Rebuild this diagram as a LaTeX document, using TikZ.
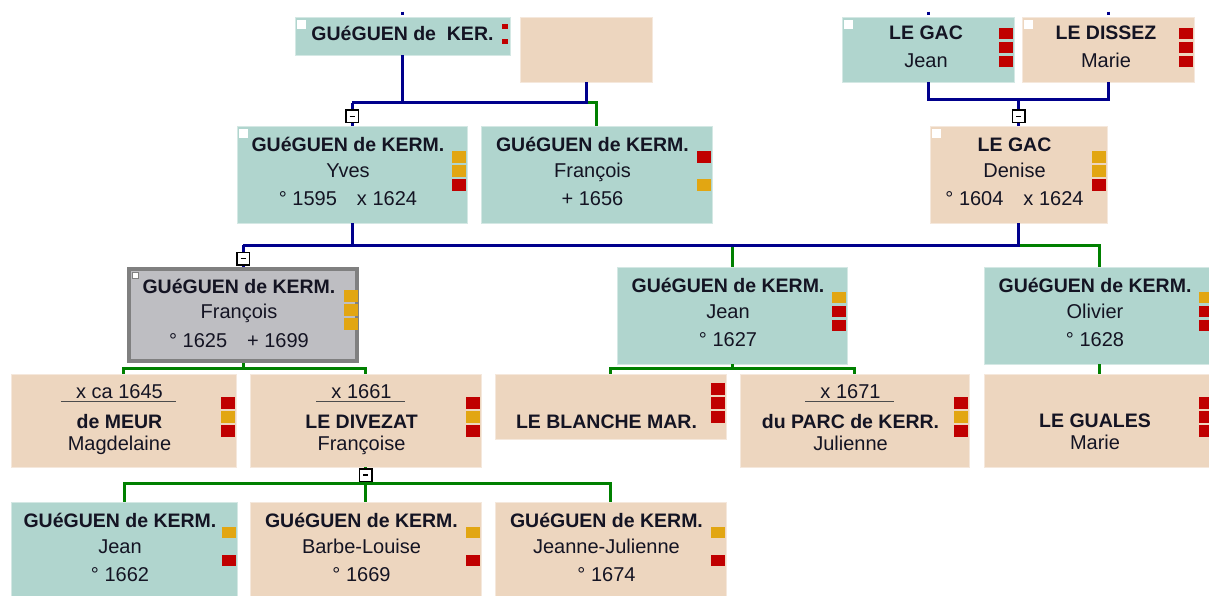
\documentclass[tikz,border=0pt]{standalone}
\usepackage{fontspec}
\setmainfont{Liberation Sans}
\usetikzlibrary{calc,positioning,fit}
\definecolor{tealbox}{RGB}{176,213,206}
\definecolor{beigebox}{RGB}{237,214,191}
\definecolor{greybox}{RGB}{190,190,194}
\definecolor{mred}{RGB}{192,0,0}
\definecolor{mor}{RGB}{226,166,18}
\definecolor{pnavy}{RGB}{0,0,140}
\definecolor{cgreen}{RGB}{0,128,0}
\definecolor{txtc}{RGB}{20,20,35}
\begin{document}
\begin{tikzpicture}[x=1pt,y=-1pt,
  box/.style={inner sep=0pt,line width=0.8pt},
  male/.style={box,fill=tealbox,draw=tealbox!55!white},
  female/.style={box,fill=beigebox,draw=beigebox!55!white},
  chosen/.style={box,fill=greybox,draw=black!50,line width=4pt},
  corner/.style={fill=white,inner sep=0pt,minimum size=9pt},
  flagbox/.style={inner sep=0pt,minimum width=14pt,minimum height=11.5pt},
  sur/.style={anchor=base,inner sep=0pt,text=txtc,font=\fontsize{19.5}{22}\selectfont\bfseries},
  given/.style={anchor=base,inner sep=0pt,text=txtc,font=\fontsize{20}{22}\selectfont},
  uline/.style={draw=black!70,line width=1.4pt},
  pline/.style={draw=pnavy,line width=3pt},
  cline/.style={draw=cgreen,line width=3pt},
  collapse/.style={draw=black,fill=white,line width=1.5pt,minimum size=12.5pt,inner sep=0pt}]
\useasboundingbox (0,0) rectangle (1209,596);
\clip (0,0) rectangle (1209,596);

% boxes
\node[male,fit={(295,17) (510,55)}] (kerA) {};
\node[female,fit={(520,17) (652,82)}] (emptyB) {};
\node[male,fit={(842,17) (1014,82)}] (gacJ) {};
\node[female,fit={(1022,17) (1194,82)}] (dissez) {};
\node[male,fit={(237,126) (467,223)}] (yves) {};
\node[male,fit={(481,126) (712,223)}] (fran1) {};
\node[female,fit={(930,126) (1107,223)}] (denise) {};
\node[chosen,fit={(129,269) (357,361)}] (fran2) {};
\node[male,fit={(617,267) (847,364)}] (jean1) {};
\node[male,fit={(984,267) (1214,364)}] (olivier) {};
\node[female,fit={(11,374) (236,467)}] (meur) {};
\node[female,fit={(250,374) (481,467)}] (divezat) {};
\node[female,fit={(495,374) (726,439)}] (blanche) {};
\node[female,fit={(740,374) (969,467)}] (parc) {};
\node[female,fit={(984,374) (1214,467)}] (guales) {};
\node[male,fit={(11,502) (237,620)}] (jean2) {};
\node[female,fit={(250,502) (481,620)}] (barbe) {};
\node[female,fit={(495,502) (726,620)}] (jj) {};

% corner squares
\foreach \b in {kerA,gacJ,dissez,yves,denise}
  \node[corner] (\b-c) at ($(\b.north west)+(6.5,8)$) {};
\node[corner,draw=black!50,line width=0.6pt,minimum size=6pt] (fran2-c) at (135.5,275.5) {};

% flags
\node[flagbox,fill=mred,minimum width=6pt,minimum height=5pt] (kerA-f1) at ($(kerA.north east)+(-5,9.5)$) {};
\node[flagbox,fill=mred,minimum width=6pt,minimum height=5pt] (kerA-f2) at ($(kerA.north east)+(-5,25)$) {};
\foreach \b/\dy/\ca/\cb/\cc in {gacJ/17/mred/mred/mred, dissez/17/mred/mred/mred,
    yves/31.5/mor/mor/mred, fran1/31.5/mred/none/mor, denise/31.5/mor/mor/mred,
    fran2/29/mor/mor/mor, jean1/31/mor/mred/mred, olivier/31/mor/mred/mred,
    meur/29.5/mred/mor/mred, divezat/29.5/mred/mor/mred, blanche/15.5/mred/mred/mred,
    parc/29.5/mred/mor/mred, guales/29.5/mred/mred/mred,
    jean2/31/mor/none/mred, barbe/31/mor/none/mred, jj/31/mor/none/mred}
  \foreach \c [count=\i] in {\ca,\cb,\cc}
    \node[flagbox,fill=\c] (\b-f\i) at ($(\b.north east)+(-8.5,{\dy+14*(\i-1)})$) {};

% names
\node[sur] (kerA-1) at ($(kerA.north)+(0,24)$) {GUéGUEN de\ \ KER.};
\foreach \b/\ta/\tb in {gacJ/LE GAC/Jean, dissez/LE DISSEZ/Marie} {
  \node[sur] (\b-1) at ($(\b.north)+(-2,23)$) {\ta};
  \node[given] (\b-2) at ($(\b.north)+(-2,51)$) {\tb};
}
\foreach \b/\ta/\tb/\tc in {yves/GUéGUEN de KERM./Yves/{° 1595\hspace{1em}x 1624},
    fran1/GUéGUEN de KERM./François/+ 1656,
    denise/LE GAC/Denise/{° 1604\hspace{1em}x 1624},
    fran2/GUéGUEN de KERM./François/{° 1625\hspace{1em}+ 1699},
    jean1/GUéGUEN de KERM./Jean/° 1627, olivier/GUéGUEN de KERM./Olivier/° 1628,
    jean2/GUéGUEN de KERM./Jean/° 1662, barbe/GUéGUEN de KERM./Barbe-Louise/° 1669,
    jj/GUéGUEN de KERM./Jeanne-Julienne/° 1674} {
  \node[sur] (\b-1) at ($(\b.north)+(-4,26)$) {\ta};
  \node[given] (\b-2) at ($(\b.north)+(-4,51.5)$) {\tb};
  \node[given] (\b-3) at ($(\b.north)+(-4,80)$) {\tc};
}
\foreach \b/\ta/\tb/\tc in {meur/x ca 1645/de MEUR/Magdelaine,
    divezat/x 1661/LE DIVEZAT/Françoise, parc/x 1671/du PARC de KERR./Julienne} {
  \node[given] (\b-1) at ($(\b.north)+(-4,25)$) {\ta};
  \draw[uline] ($(\b-1.base west)+(-15,3)$) -- ($(\b-1.base east)+(13,3)$);
  \node[sur] (\b-2) at ($(\b.north)+(-4,55)$) {\tb};
  \node[given] (\b-3) at ($(\b.north)+(-4,77)$) {\tc};
}
\node[sur] (blanche-1) at ($(blanche.north)+(-4,55)$) {LE BLANCHE MAR.};
\node[sur] (guales-1) at ($(guales.north)+(-4,54)$) {LE GUALES};
\node[given] (guales-2) at ($(guales.north)+(-4,76)$) {Marie};

% stubs to the generation above
\foreach \b in {kerA,gacJ,dissez} {
  \coordinate (\b-up) at ($(\b.north)+(0,-5)$);
  \draw[pline] (\b-up) -- ($(\b.north)+(0,-2)$);
}

% parents of Yves and François
\coordinate (barA) at (352,103);
\draw[cline] (emptyB.south |- barA) -| (fran1.north);
\draw[pline] (kerA.south) -- (kerA.south |- barA);
\draw[pline] (barA) -| (emptyB.south);
\draw[pline] (barA) -- (yves.north);

% parents of Denise
\coordinate (barB) at (1018.5,100);
\draw[pline] (gacJ.south) |- (barB) -| (dissez.south);
\draw[pline] (barB) -- (denise.north);

% children of Yves and Denise
\coordinate (barC) at (243,245);
\draw[cline] (barC -| denise.south) -| (olivier.north);
\draw[cline] (barC -| jean1.north) -- (jean1.north);
\draw[pline] (yves.south) -- (yves.south |- barC);
\draw[pline] (barC) -- (barC -| denise.south) -- (denise.south);
\draw[pline] (barC) -- (fran2.north);

% spouses
\coordinate (barD) at (243,368);
\draw[cline] (fran2.south) -- (barD);
\draw[cline] (meur.north) |- (barD) -| (divezat.north);
\coordinate (barE) at (732,368);
\draw[cline] (jean1.south) -- (barE);
\draw[cline] (blanche.north) |- (barE) -| (parc.north);
\draw[cline] (olivier.south) -- (guales.north);

% children of François and Françoise
\coordinate (barF) at (365.5,483);
\draw[cline] (divezat.south) -- (barF);
\draw[cline] (jean2.north) |- (barF) -| (jj.north);
\draw[cline] (barF) -- (barbe.north);

% collapse buttons
\node[collapse] (iconA) at (352,116.5) {\rule{5pt}{1.6pt}};
\node[collapse] (iconB) at (1018.5,116.5) {\rule{5pt}{1.6pt}};
\node[collapse] (iconC) at (243,258.5) {\rule{5pt}{1.6pt}};
\node[collapse] (iconD) at (365.5,475) {\rule{5pt}{1.6pt}};
\end{tikzpicture}
\end{document}
